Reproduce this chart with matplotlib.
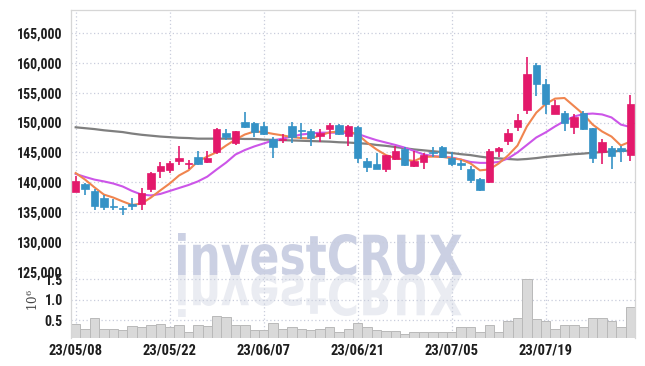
import matplotlib
matplotlib.use('Agg')
import matplotlib.pyplot as plt
from matplotlib import font_manager as fm
from matplotlib.textpath import TextPath
from matplotlib.patches import PathPatch
from matplotlib.font_manager import FontProperties
from matplotlib.transforms import Affine2D

# ---- data ----
tick_pos = [0, 10, 20, 30, 40, 50]
tick_labels = ['23/05/08', '23/05/22', '23/06/07', '23/06/21', '23/07/05', '23/07/19']

opens = [138350, 139800, 138500, 137300, 136000, 135650, 136400, 136300, 138950, 141850,
         142050, 143500, 143000, 144250, 143350, 145050, 148300, 146500, 150150, 149950,
         149500, 147300, 147050, 149350, 148600, 148650, 147700, 148850, 149600, 147700,
         149300, 143600, 143000, 142150, 143950, 145600, 142800, 143350, 145000, 145950,
         144000, 143250, 142250, 140600, 140100, 145200, 146850, 149200, 152150, 159700,
         156500, 151450, 151650, 149200, 151600, 149000, 145050, 145800, 145800, 144550]
closes = [140200, 138800, 136000, 135800, 135850, 135500, 136000, 138250, 141600, 142700,
          143150, 144000, 143200, 143100, 144100, 148950, 147550, 148500, 149200, 148400,
          148000, 145850, 147250, 147600, 148500, 147450, 148300, 149650, 148050, 149400,
          144050, 142550, 142300, 144500, 145200, 142900, 143550, 144650, 144900, 144200,
          143100, 142950, 140350, 138700, 145300, 145800, 148300, 150350, 158050, 156450,
          153150, 153000, 149850, 151000, 148850, 144000, 146750, 144350, 145300, 153150]
highs = [141000, 139950, 138800, 137800, 137250, 136000, 137400, 139100, 141700, 143450,
         143550, 146050, 143800, 145200, 145200, 149150, 148950, 148600, 151800, 150050,
         150100, 147600, 148000, 150150, 149850, 148850, 148950, 149950, 149700, 149650,
         149400, 144100, 144950, 144650, 146050, 145950, 145200, 144950, 145950, 146050,
         145050, 143800, 142700, 140750, 145500, 145850, 148850, 151500, 161000, 160000,
         157200, 153750, 151900, 151450, 151900, 149100, 147250, 146050, 146050, 154550]
lows = [138300, 137950, 135350, 135350, 135450, 134450, 135350, 135450, 138350, 140650,
        141600, 142850, 142250, 142850, 143250, 144750, 147050, 146300, 149150, 147600,
        147850, 144100, 146600, 146600, 147250, 146150, 146700, 147250, 147950, 146150,
        143250, 141750, 142200, 141800, 143800, 142650, 142550, 142250, 144150, 144050,
        142800, 142050, 139900, 138500, 139900, 144250, 146300, 148550, 151350, 154400,
        151450, 151400, 148550, 148000, 148800, 143150, 143100, 142150, 143350, 143550]
ma_short = [141550, 140450, 139150, 137950, 137450, 136800, 136200, 136450, 137450, 138650,
            139800, 141150, 142000, 143500, 144300, 145050, 146150, 147150, 148000, 148500,
            148400, 148100, 147850, 147550, 147400, 147350, 147850, 148350, 148500, 148500,
            148000, 146650, 145500, 144550, 144050, 143800, 143550, 144250, 144300, 144250,
            144050, 143800, 143150, 142000, 142150, 143150, 144500, 146150, 149350, 151650,
            153100, 154000, 154100, 152750, 151400, 149650, 148500, 147650, 146150, 146800]
ma_mid = [141400, 140900, 140450, 140150, 139800, 139300, 138550, 137950, 137800, 138050,
          138550, 139050, 139550, 140150, 140950, 142150, 143300, 144650, 145400, 146000,
          146500, 147000, 147300, 147650, 148000, 148150, 148300, 148300, 148300, 148250,
          148100, 147550, 147050, 146650, 146250, 145800, 145250, 144650, 144400, 144250,
          144150, 143800, 143400, 143250, 143250, 143400, 144000, 145000, 146250, 147500,
          148350, 149350, 150250, 151000, 151400, 151500, 151350, 150850, 149650, 149250]
ma_long = [149200, 149050, 148900, 148700, 148550, 148400, 148150, 147950, 147800, 147650,
           147550, 147450, 147400, 147300, 147300, 147300, 147300, 147300, 147250, 147250,
           147150, 147100, 147050, 147000, 146950, 146900, 146850, 146800, 146700, 146650,
           146550, 146450, 146250, 146100, 145900, 145700, 145500, 145350, 145200, 145050,
           144900, 144700, 144550, 144300, 144100, 144000, 143900, 143800, 143900, 144050,
           144250, 144400, 144550, 144700, 144800, 144950, 145050, 145150, 145250, 145300]
volume_m = [0.40, 0.28, 0.54, 0.29, 0.29, 0.27, 0.35, 0.33, 0.38, 0.40,
            0.32, 0.37, 0.20, 0.37, 0.35, 0.61, 0.58, 0.38, 0.38, 0.25,
            0.25, 0.44, 0.28, 0.32, 0.28, 0.25, 0.29, 0.32, 0.20, 0.28,
            0.42, 0.34, 0.25, 0.23, 0.24, 0.17, 0.22, 0.20, 0.22, 0.22,
            0.22, 0.34, 0.32, 0.20, 0.39, 0.20, 0.47, 0.54, 1.52, 0.52,
            0.49, 0.29, 0.39, 0.37, 0.34, 0.54, 0.54, 0.47, 0.34, 0.81]
price_ticks = [125000, 130000, 135000, 140000, 145000, 150000, 155000, 160000, 165000]
vol_ticks = [0.5, 1.0, 1.5]

# ---- style ----
UP = '#e3196b'
DOWN = '#3592c6'
GRID = '#c9cddc'

installed = {f.name for f in fm.fontManager.ttflist}
FONT, LSIZE, LWEIGHT = ['Liberation Sans', 'DejaVu Sans'], 9.0, 'normal'
for cand in ['Liberation Sans Narrow', 'Roboto Condensed', 'Noto Sans Condensed',
             'Open Sans Condensed', 'DejaVu Sans Condensed']:
    if cand in installed:
        FONT, LSIZE, LWEIGHT = [cand, 'DejaVu Sans'], 10.0, 'semibold'
        break
plt.rcParams['font.family'] = FONT
plt.rcParams['mathtext.fontset'] = 'dejavuserif'

W, H = 645, 366
fig = plt.figure(figsize=(W / 100, H / 100), dpi=100)
fig.patch.set_facecolor('white')

L, R = 71, 635
ax = fig.add_axes([L / W, 1 - 272 / H, (R - L) / W, (272 - 9.5) / H])
axv = fig.add_axes([L / W, 1 - 337.5 / H, (R - L) / W, (337.5 - 272) / H], sharex=ax)
for a in (ax, axv):
    a.set_facecolor('none')


# watermark (text path, with mirror reflection); pixel coords measured from top
def watermark(text, x0, x1, ybase, ytop, color, flip):
    fp = FontProperties(family='DejaVu Sans', weight='bold')
    tp = TextPath((0, 0), text, size=100, prop=fp)
    ext = tp.get_extents()
    sx = (x1 - x0) / ext.width
    sy = (ybase - ytop) / ext.y1
    if flip:
        sy = -sy
    tr = (Affine2D().translate(-ext.x0, 0).scale(sx, sy).translate(x0, H - ybase)
          .scale(1 / W, 1 / H)) + fig.transFigure
    p = PathPatch(tp, facecolor=color, edgecolor='none', transform=tr, zorder=-1)
    fig.patches.append(p)


watermark('investCRUX', 178, 462, 275, 233, '#cbd0e3', False)
watermark('investCRUX', 178, 462, 275, 233, '#eaecf2', True)

n = len(opens)
xs = list(range(n))

# candles
for i in xs:
    o, c, h, l = opens[i], closes[i], highs[i], lows[i]
    col = UP if c >= o else DOWN
    ax.vlines(i, l, h, color=col, lw=1.2, zorder=3)
    bot = min(o, c)
    ht = max(abs(c - o), 170)
    ax.bar(i, ht, bottom=bot, width=0.8, color=col, edgecolor=col, lw=0.5, zorder=4)

ax.plot(xs, ma_long, color='#7f7f7f', lw=1.6, zorder=2)
ax.plot(xs, ma_mid, color='#cc55e8', lw=1.5, zorder=2)
ax.plot(xs, ma_short, color='#f0854f', lw=1.5, zorder=2)

ax.set_xlim(-0.5, n - 0.5)
ax.set_ylim(125000, 168900)
ax.set_yticks(price_ticks)
ax.set_yticklabels([f'{v:,}' for v in price_ticks], fontweight=LWEIGHT)
ax.grid(True, color=GRID, ls=(0, (1, 2)), lw=0.9)
ax.set_axisbelow(True)
ax.tick_params(length=0, pad=6, labelsize=LSIZE, labelcolor='#1e1e1e', labelbottom=False)

axv.bar(xs, volume_m, width=1.0, color='#d9d9d9', edgecolor='#b9b9b9', lw=0.7, zorder=2)
axv.set_ylim(0.074, 1.68)
axv.set_yticks(vol_ticks)
axv.set_yticklabels([f'{v:.1f}' for v in vol_ticks], fontweight=LWEIGHT)
axv.set_xticks(tick_pos)
axv.set_xticklabels(tick_labels, fontweight=LWEIGHT)
axv.grid(True, color=GRID, ls=(0, (1, 2)), lw=0.9)
axv.set_axisbelow(True)
axv.tick_params(length=0, pad=6, labelsize=LSIZE, labelcolor='#1e1e1e')
axv.tick_params(axis='x', pad=4, labelsize=LSIZE * 1.05)

for a in (ax, axv):
    for s in a.spines.values():
        s.set_color('#d6d6d6')
        s.set_linewidth(0.9)
ax.spines['bottom'].set_visible(False)
axv.spines['top'].set_visible(False)
axv.spines['bottom'].set_visible(False)

fig.text(33 / W, 1 - 300 / H, r'$10^6$', rotation=90, ha='center', va='center',
         fontsize=8.5, color='#444444')

fig.savefig('out.png', dpi=100)
